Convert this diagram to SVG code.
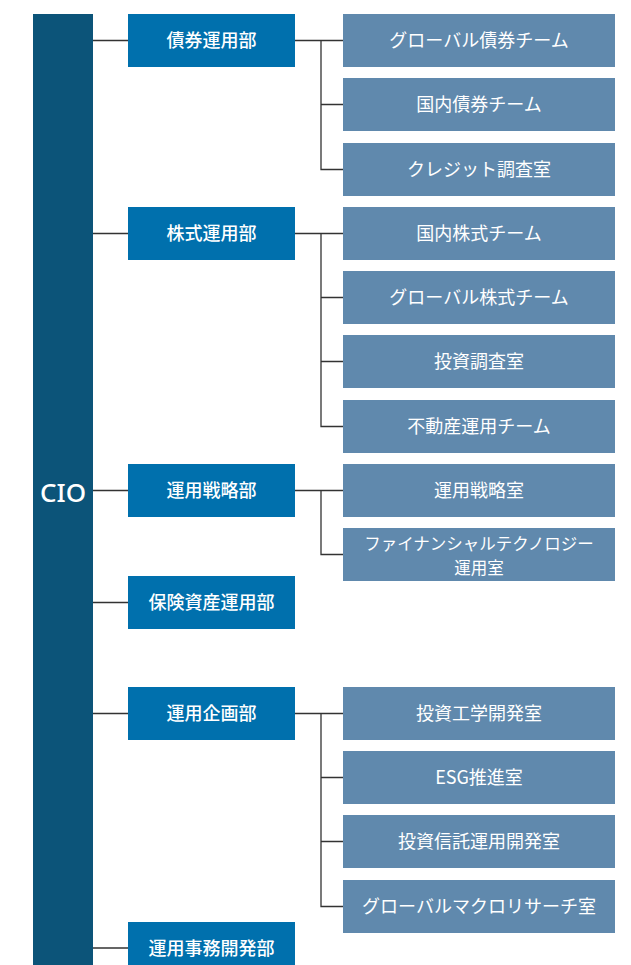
<svg xmlns="http://www.w3.org/2000/svg" width="631" height="965" viewBox="0 0 631 965">
<style>
.cio{fill:#0c5479}
.dept rect{fill:#0070ad}
.team rect{fill:#6089ad}
text{fill:#ffffff;font-family:"Noto Sans CJK JP","Noto Sans",sans-serif;text-anchor:middle;dominant-baseline:central}
.dept text{font-size:18px;font-weight:500}
.team text{font-size:18px;font-weight:400}
.team text.sm{font-size:16.5px}
.conn path{fill:none;stroke:#333333;stroke-width:1.3}
</style>
<rect width="631" height="965" fill="#ffffff"/>
<g id="cio"><rect class="cio" x="33" y="14" width="60" height="951"/><text x="63" y="492" style="font-size:26px;font-weight:500;font-family:'Noto Sans','Noto Sans CJK JP',sans-serif">CIO</text></g>
<g class="conn" id="connectors">
<path d="M93 40.5H128M93 233.5H128M93 490.5H128M93 602.5H128M93 713.5H128M93 948H128"/>
<path d="M295 40.5H343M321 40.5V169.5H343M321 104.5H343"/>
<path d="M295 233.5H343M321 233.5V426.5H343M321 297.5H343M321 361.5H343"/>
<path d="M295 490.5H343M321 490.5V554.5H343"/>
<path d="M295 713.5H343M321 713.5V906.5H343M321 777.5H343M321 841.5H343"/>
</g>
<g class="dept" id="d1"><rect x="128" y="14" width="167" height="53"/><text x="211.5" y="39">債券運用部</text></g>
<g class="dept" id="d2"><rect x="128" y="207" width="167" height="53"/><text x="211.5" y="232">株式運用部</text></g>
<g class="dept" id="d3"><rect x="128" y="464" width="167" height="53"/><text x="211.5" y="489">運用戦略部</text></g>
<g class="dept" id="d4"><rect x="128" y="576" width="167" height="53"/><text x="211.5" y="601">保険資産運用部</text></g>
<g class="dept" id="d5"><rect x="128" y="687" width="167" height="53"/><text x="211.5" y="712">運用企画部</text></g>
<g class="dept" id="d6"><rect x="128" y="922" width="167" height="53"/><text x="211.5" y="946.5">運用事務開発部</text></g>
<g class="team" id="t1"><rect x="343" y="14" width="272" height="53"/><text x="479" y="39">グローバル債券チーム</text></g>
<g class="team" id="t2"><rect x="343" y="78" width="272" height="53"/><text x="479" y="103">国内債券チーム</text></g>
<g class="team" id="t3"><rect x="343" y="143" width="272" height="53"/><text x="479" y="168">クレジット調査室</text></g>
<g class="team" id="t4"><rect x="343" y="207" width="272" height="53"/><text x="479" y="232">国内株式チーム</text></g>
<g class="team" id="t5"><rect x="343" y="271" width="272" height="53"/><text x="479" y="296">グローバル株式チーム</text></g>
<g class="team" id="t6"><rect x="343" y="335" width="272" height="53"/><text x="479" y="360">投資調査室</text></g>
<g class="team" id="t7"><rect x="343" y="400" width="272" height="53"/><text x="479" y="425">不動産運用チーム</text></g>
<g class="team" id="t8"><rect x="343" y="464" width="272" height="53"/><text x="479" y="489">運用戦略室</text></g>
<g class="team" id="t9"><rect x="343" y="528" width="272" height="53"/><text class="sm" x="479" y="542.5">ファイナンシャルテクノロジー</text><text class="sm" x="479" y="566.5">運用室</text></g>
<g class="team" id="t10"><rect x="343" y="687" width="272" height="53"/><text x="479" y="712">投資工学開発室</text></g>
<g class="team" id="t11"><rect x="343" y="751" width="272" height="53"/><text x="479" y="776">ESG推進室</text></g>
<g class="team" id="t12"><rect x="343" y="815" width="272" height="53"/><text x="479" y="840">投資信託運用開発室</text></g>
<g class="team" id="t13"><rect x="343" y="880" width="272" height="53"/><text x="479" y="905">グローバルマクロリサーチ室</text></g>
</svg>
